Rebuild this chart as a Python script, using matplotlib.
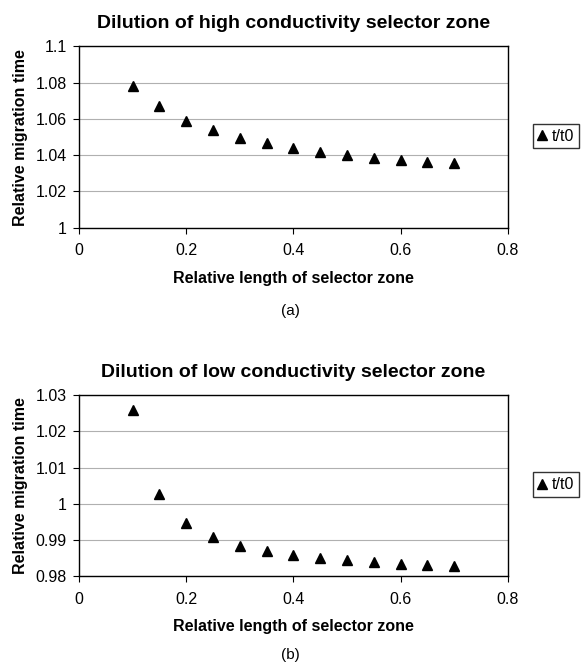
import matplotlib.pyplot as plt

plt.rcParams['font.family'] = ['Liberation Sans', 'DejaVu Sans']

# relative length of selector zone
lengths = [0.1, 0.15, 0.2, 0.25, 0.3, 0.35, 0.4, 0.45, 0.5, 0.55, 0.6, 0.65, 0.7]

# relative migration time t/t0
high_cond = [1.078, 1.067, 1.059, 1.054, 1.0495, 1.0465, 1.044, 1.042, 1.040,
             1.0385, 1.0375, 1.0365, 1.0355]
low_cond = [1.026, 1.0027, 0.9947, 0.9908, 0.9885, 0.9870, 0.9858, 0.9850,
            0.9844, 0.9839, 0.9835, 0.9831, 0.9828]

fig = plt.figure(figsize=(5.81, 6.64), dpi=100)


def panel(rect, y, title, ylim, yticks, yticklabels, tag, tag_y, leg_y):
    ax = fig.add_axes(rect)
    ax.plot(lengths, y, linestyle='none', marker='^', color='black',
            markersize=7.5, label='t/t0')
    ax.set_xlim(0, 0.8)
    ax.set_ylim(*ylim)
    ax.set_xticks([0, 0.2, 0.4, 0.6, 0.8])
    ax.set_xticklabels(['0', '0.2', '0.4', '0.6', '0.8'])
    ax.set_yticks(yticks)
    ax.set_yticklabels(yticklabels)
    ax.yaxis.grid(True, color='#b0b0b0', linewidth=0.8)
    ax.set_axisbelow(True)
    ax.tick_params(direction='out', length=4, labelsize=11.5, width=0.8)
    ax.tick_params(axis='x', pad=7)
    ax.tick_params(axis='y', pad=5)
    for s in ax.spines.values():
        s.set_linewidth(1.0)
    ax.set_title(title, fontsize=14, fontweight='bold', pad=13)
    ax.set_xlabel('Relative length of selector zone', fontsize=11.5,
                  fontweight='bold', labelpad=9)
    ax.set_ylabel('Relative migration time', fontsize=11.5, fontweight='bold',
                  labelpad=5)
    fig.text(0.5, tag_y, tag, ha='center', va='center', fontsize=11)
    fig.legend(handles=ax.get_lines(), loc='center left',
               bbox_to_anchor=(0.917, leg_y), frameon=True, fancybox=False,
               edgecolor='black', fontsize=11.5, handlelength=0.6,
               handletextpad=0.3, borderpad=0.3, borderaxespad=0)
    return ax


panel([0.136, 0.657, 0.738, 0.273], high_cond,
      'Dilution of high conductivity selector zone', (1.0, 1.1),
      [1.0, 1.02, 1.04, 1.06, 1.08, 1.1],
      ['1', '1.02', '1.04', '1.06', '1.08', '1.1'], '(a)', 0.532, 0.795)

panel([0.136, 0.132, 0.738, 0.273], low_cond,
      'Dilution of low conductivity selector zone', (0.98, 1.03),
      [0.98, 0.99, 1.0, 1.01, 1.02, 1.03],
      ['0.98', '0.99', '1', '1.01', '1.02', '1.03'], '(b)', 0.013, 0.27)

fig.savefig('out.png', dpi=100)
